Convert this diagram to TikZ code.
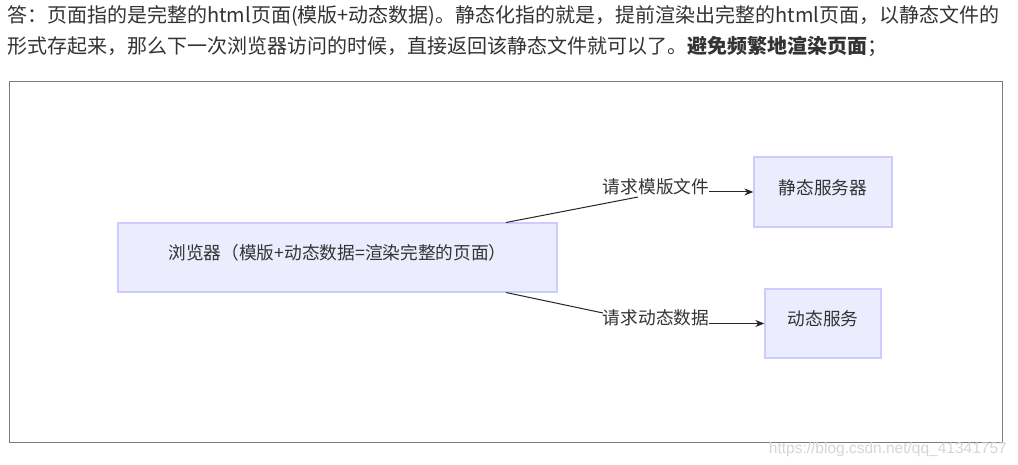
\documentclass[tikz,border=0pt]{standalone}
\usepackage{fontspec}
\setmainfont{Noto Sans CJK SC}
\newfontfamily\wmfont{Liberation Sans}
\usetikzlibrary{arrows.meta}
\definecolor{txt}{HTML}{333333}
\definecolor{nodefill}{HTML}{ECECFF}
\definecolor{nodeline}{HTML}{CCCCFF}
\definecolor{framecol}{HTML}{7A7A7A}
\definecolor{wm}{HTML}{D6D6D6}
\begin{document}
\begin{tikzpicture}[x=1pt,y=-1pt,
  box/.style={draw=nodeline, fill=nodefill, line width=1.3pt, inner sep=0pt,
              text height=12pt, text depth=7pt,
              font=\fontsize{17.7}{20}\selectfont, text=txt},
  elabel/.style={inner sep=0pt, font=\fontsize{17.7}{20}\selectfont, text=txt},
  para/.style={anchor=west, inner sep=0pt, font=\fontsize{20}{24}\selectfont, text=txt},
  edge/.style={draw=black!85, line width=1pt},
  arr/.style={edge, -{Stealth[length=9pt,width=7pt]}}]
\fill[white] (0,0) rectangle (1018,465);
\useasboundingbox (0,0) rectangle (1018,465);
% paragraph
\node[para] (t1) at (7,16) {答：页面指的是完整的html页面(模版+动态数据)。静态化指的就是，提前渲染出完整的html页面，以静态文件的};
\node[para] (t2) at (7,47) {形式存起来，那么下一次浏览器访问的时候，直接返回该静态文件就可以了。\textbf{避免频繁地渲染页面}；};
% frame
\draw[framecol, line width=1pt] (9,82) rectangle (1002,442);
% nodes
\node[box, minimum width=439pt, minimum height=69pt] (b) at (337.5,257.5) {浏览器（模版+动态数据=渲染完整的页面）};
\node[box, minimum width=138pt, minimum height=70pt] (s1) at (823,192) {静态服务器};
\node[box, minimum width=116pt, minimum height=69pt] (s2) at (823,323.5) {动态服务};
\node[elabel] (l1) at (656,187) {请求模版文件};
\node[elabel] (l2) at (656,318) {请求动态数据};
% edges
\coordinate (b1) at (506,222.5);
\coordinate (e1) at (638,197);
\coordinate (b2) at (506,292.5);
\coordinate (e2) at (603,313);
\draw[edge] (b1) -- (e1);
\draw[arr] (l1.east |- s1.west) -- (s1.west);
\draw[edge] (b2) -- (e2);
\draw[arr] (l2.east |- s2.west) -- (s2.west);
% watermark
\node[anchor=east, inner sep=0pt, text=wm, font=\wmfont\fontsize{15.5}{18}\selectfont] (w) at (1007,449) {https://blog.csdn.net/qq\_41341757};
\end{tikzpicture}
\end{document}
